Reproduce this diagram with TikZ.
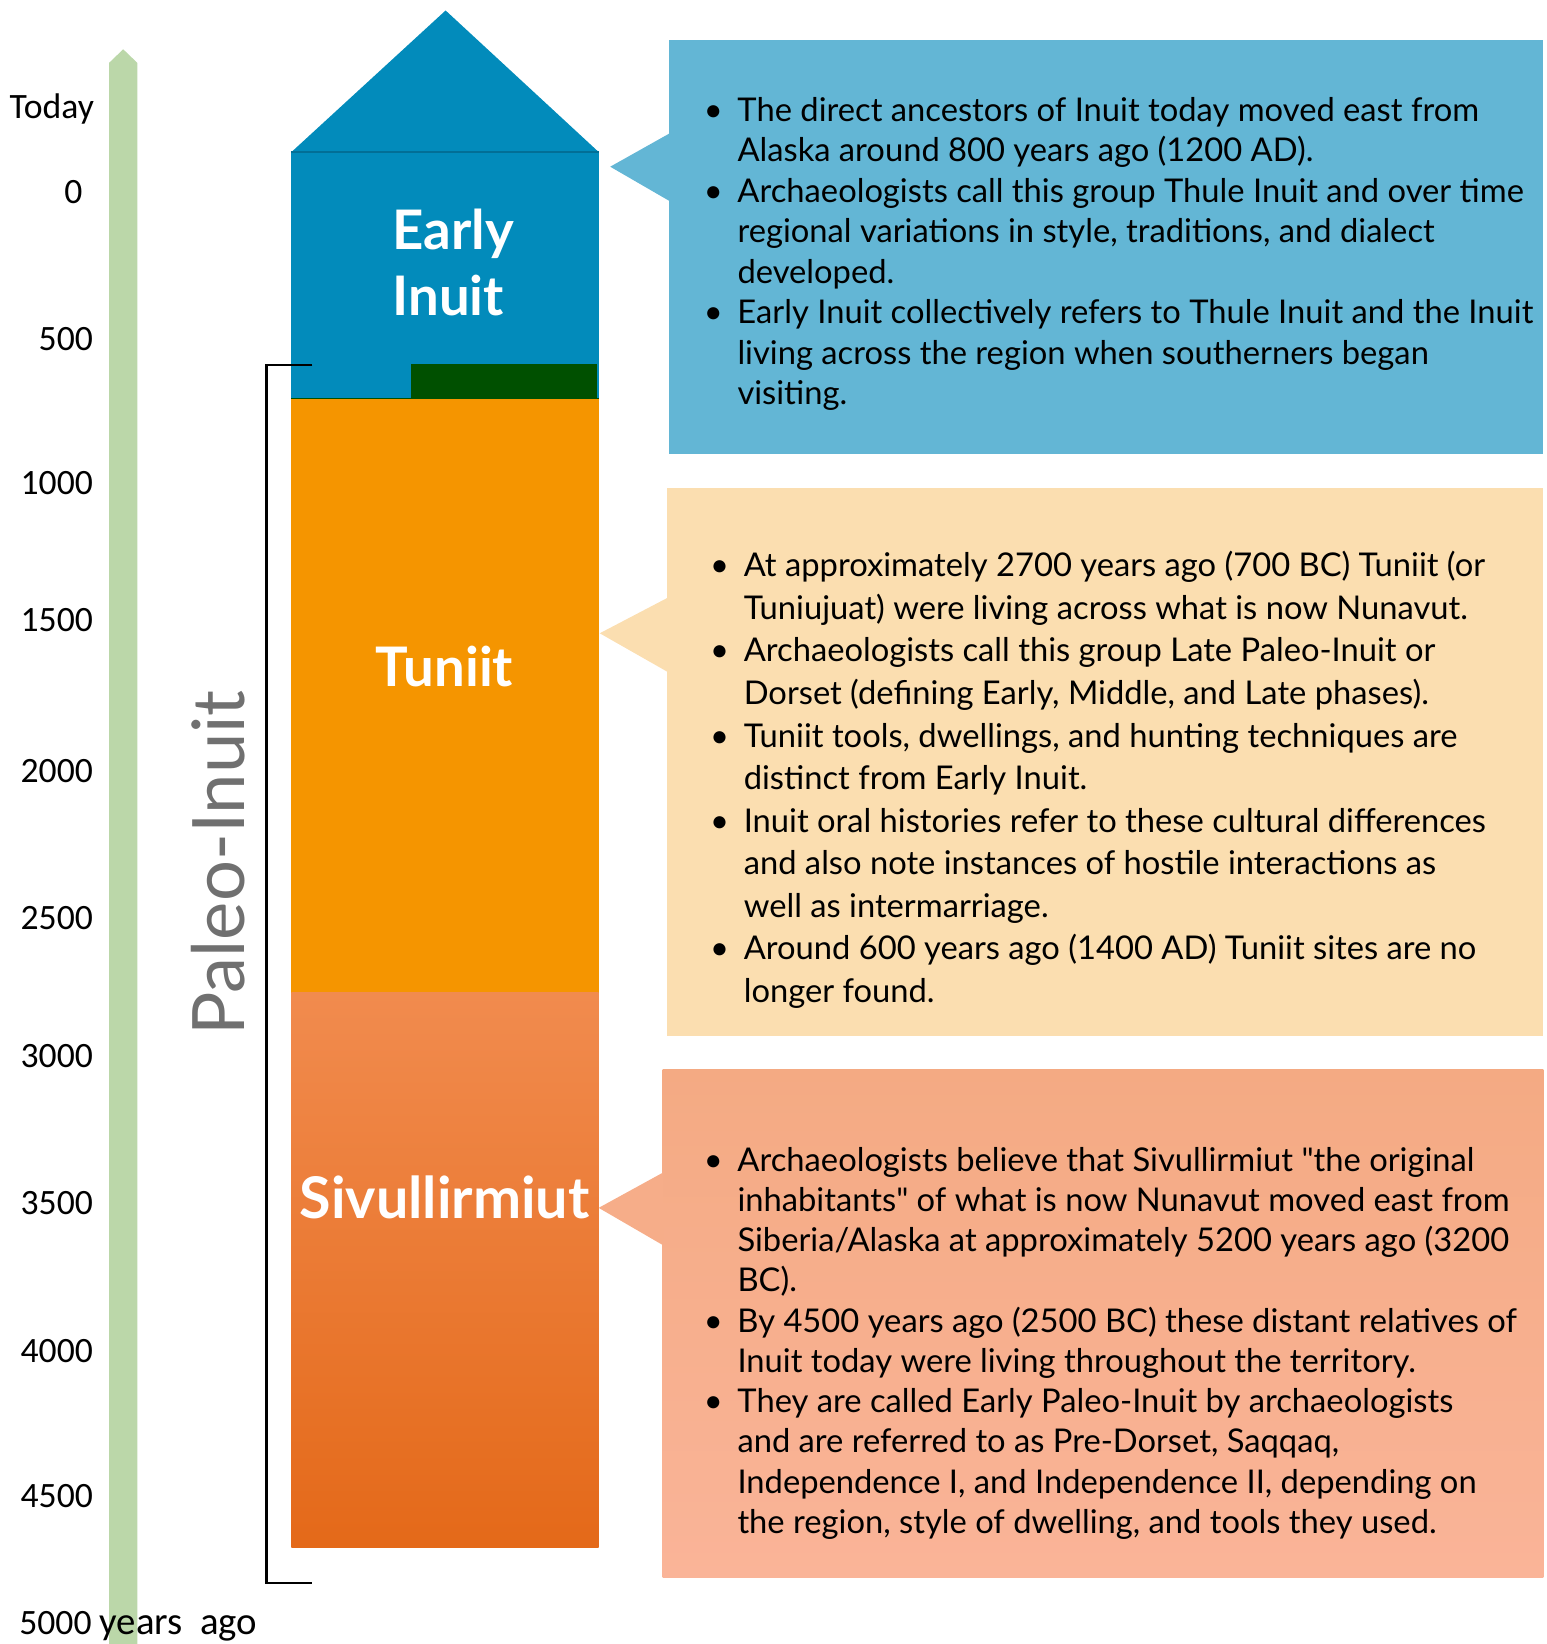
\documentclass[tikz,border=0pt]{standalone}
\usepackage{fontspec}
\setmainfont{Lato}
\newfontfamily\axisfont{Carlito}

\definecolor{barGreen}{RGB}{187,215,169}
\definecolor{inuitBlue}{RGB}{2,139,187}
\definecolor{darkGreen}{RGB}{0,80,0}
\definecolor{tuniitOrange}{RGB}{245,149,0}
\definecolor{sivTop}{RGB}{241,139,78}
\definecolor{sivBottom}{RGB}{228,105,25}
\definecolor{blueNote}{RGB}{99,182,213}
\definecolor{peachNote}{RGB}{251,222,176}
\definecolor{salmonTop}{RGB}{244,170,131}
\definecolor{salmonBottom}{RGB}{250,180,152}
\definecolor{paleoGray}{RGB}{112,112,112}

\newcommand{\bul}{\makebox[16pt][l]{\textbullet}}

\begin{document}
\begin{tikzpicture}[x=0.5pt, y=-0.5pt,
	yearlabel/.style={anchor=east, inner sep=0pt, font=\axisfont\fontsize{17}{20}\selectfont},
	culture/.style={inner sep=0pt, text=white, font=\bfseries\fontsize{26}{31.5}\selectfont},
	notetext/.style={anchor=west, inner sep=0pt, align=left}]
	\useasboundingbox (0,0) rectangle (1475,1568);

	%time bar
	\fill[barGreen] (104,1568) -- (104,60) -- (117.5,47) -- (131,60) -- (131,1568) -- cycle;

	%ticks
	\node[yearlabel] (today) at (90,104) {Today};
	\node[yearlabel] (y0) at (79,183) {0};
	\foreach \yr/\y in {500/323,1000/461,1500/591,2000/735,2500/876,3000/1007,3500/1147,4000/1289,4500/1427}
		\node[yearlabel] (y\yr) at (89,\y) {\yr};
	\node[yearlabel, anchor=west] (y5000) at (18,1551) {5000 {\fontsize{18.5}{20}\selectfont years\ \ ago}};

	%cultures
	\fill[inuitBlue] (278,145) -- (425,10) -- (571,145) -- cycle;
	\fill[inuitBlue] (278,145) rectangle (571,380);
	\draw[inuitBlue!80!black, line width=0.6pt] (278,145) -- (571,145);
	\fill[darkGreen] (392,347) rectangle (569,380);
	\draw[darkGreen, line width=0.6pt] (278,380) -- (571,380);
	\fill[tuniitOrange] (278,380.5) rectangle (571,947);
	\shade[top color=sivTop, bottom color=sivBottom] (278,947) rectangle (571,1476);

	\node[culture, anchor=west, align=left] (early) at (374,250) {Early\\Inuit};
	\node[culture] (tuniit) at (424,636) {Tuniit};
	\node[culture, font=\bfseries\fontsize{27.4}{32}\selectfont] (siv) at (424,1142) {Sivullirmiut};

	%bracket
	\draw[line width=1.2pt] (298,348) -- (254,348) -- (254,1510) -- (298,1510);
	\node[rotate=90, inner sep=0pt, text=paleoGray, font=\fontsize{34.5}{40}\selectfont] (paleo) at (208,823) {Paleo-Inuit};

	%notes
	\fill[blueNote] (638,38) rectangle (1472,433);
	\fill[blueNote] (639,127) -- (582,159) -- (639,192) -- cycle;
	\fill[peachNote] (636,465) rectangle (1472,988);
	\fill[peachNote] (637,570) -- (572,604) -- (637,641) -- cycle;
	\shade[top color=salmonTop, bottom color=salmonBottom] (632,1020) rectangle (1472,1505);
	\fill[salmonTop!70!salmonBottom] (633,1118) -- (571,1152) -- (633,1188) -- cycle;

	\node[notetext, font=\fontsize{15.6}{19.3}\selectfont] (inuitNote) at (671,243) {%
		\begin{tabular}{@{}l@{}l@{}}
		\bul & The direct ancestors of Inuit today moved east from\\
		 & Alaska around 800 years ago (1200 AD).\\
		\bul & Archaeologists call this group Thule Inuit and over time\\
		 & regional variations in style, traditions, and dialect\\
		 & developed.\\
		\bul & Early Inuit collectively refers to Thule Inuit and the Inuit\\
		 & living across the region when southerners began\\
		 & visiting.
		\end{tabular}};
	\node[notetext, font=\fontsize{15.6}{20.3}\selectfont] (tuniitNote) at (677,745) {%
		\begin{tabular}{@{}l@{}l@{}}
		\bul & At approximately 2700 years ago (700 BC) Tuniit (or\\
		 & Tuniujuat) were living across what is now Nunavut.\\
		\bul & Archaeologists call this group Late Paleo-Inuit or\\
		 & Dorset (defining Early, Middle, and Late phases).\\
		\bul & Tuniit tools, dwellings, and hunting techniques are\\
		 & distinct from Early Inuit.\\
		\bul & Inuit oral histories refer to these cultural differences\\
		 & and also note instances of hostile interactions as\\
		 & well as intermarriage.\\
		\bul & Around 600 years ago (1400 AD) Tuniit sites are no\\
		 & longer found.
		\end{tabular}};
	\node[notetext, font=\fontsize{15.6}{19.2}\selectfont] (sivNote) at (671,1282) {%
		\begin{tabular}{@{}l@{}l@{}}
		\bul & Archaeologists believe that Sivullirmiut \textquotedbl the original\\
		 & inhabitants\textquotedbl{} of what is now Nunavut moved east from\\
		 & Siberia/Alaska at approximately 5200 years ago (3200\\
		 & BC).\\
		\bul & By 4500 years ago (2500 BC) these distant relatives of\\
		 & Inuit today were living throughout the territory.\\
		\bul & They are called Early Paleo-Inuit by archaeologists\\
		 & and are referred to as Pre-Dorset, Saqqaq,\\
		 & Independence I, and Independence II, depending on\\
		 & the region, style of dwelling, and tools they used.
		\end{tabular}};
\end{tikzpicture}
\end{document}
